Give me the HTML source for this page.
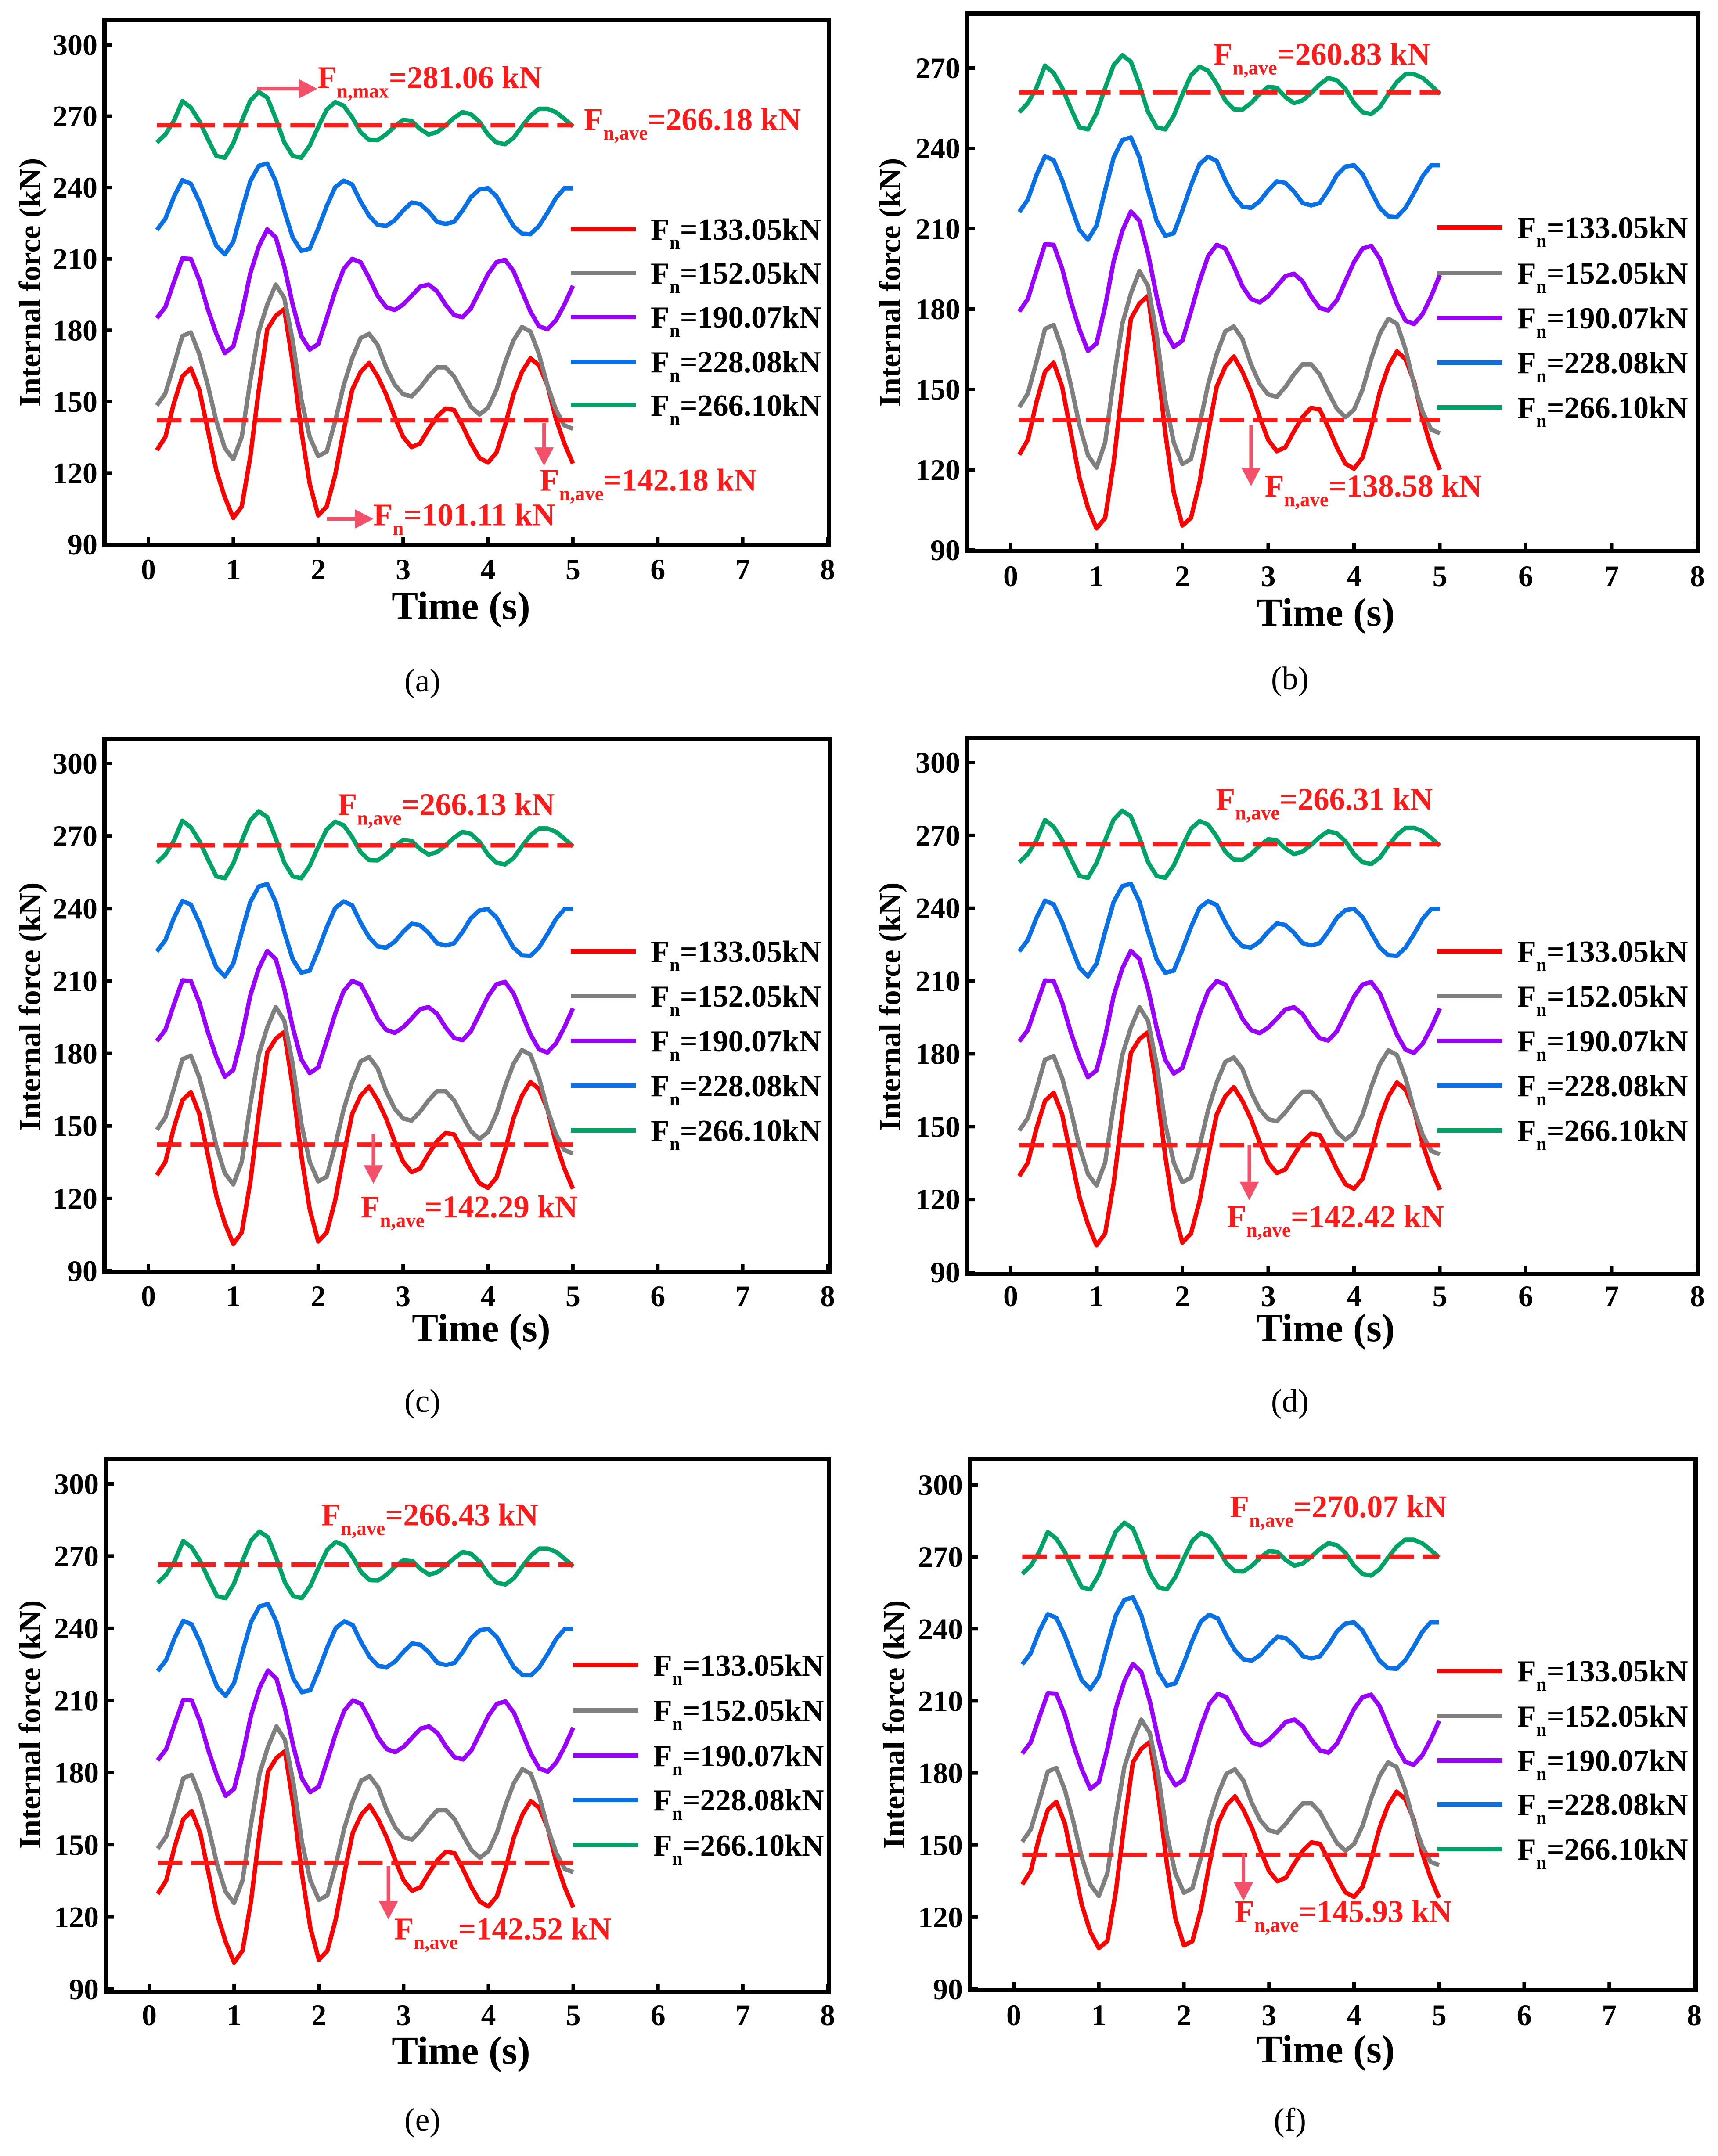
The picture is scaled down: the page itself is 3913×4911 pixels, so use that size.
<!DOCTYPE html>
<html><head><meta charset="utf-8">
<style>
html,body{margin:0;padding:0;background:#fff;}
svg{display:block;}
text{font-family:"Liberation Serif","DejaVu Serif",serif;}
</style></head>
<body>
<svg id="fig" xmlns="http://www.w3.org/2000/svg" width="3913" height="4911" viewBox="0 0 3913 4911">
<rect x="0" y="0" width="3913" height="4911" fill="#fff"/>
</svg>
<script>
const times = [0.1,0.2,0.3,0.4,0.5,0.6,0.7,0.8,0.9,1.0,1.1,1.2,1.3,1.4,1.5,1.6,1.7,1.8,1.9,2.0,2.1,2.2,2.3,2.4,2.5,2.6,2.7,2.8,2.9,3.0,3.1,3.2,3.3,3.4,3.5,3.6,3.7,3.8,3.9,4.0,4.1,4.2,4.3,4.4,4.5,4.6,4.7,4.8,4.9,5.0];
const seriesNames = ["133.05","152.05","190.07","228.08","266.10"];
const xTicks = [0,1,2,3,4,5,6,7,8];
const yTicksFull = [90,120,150,180,210,240,270,300];
const yTicksB = [90,120,150,180,210,240,270];

const greenA = [258.9,262.3,268,276.3,273.6,268,260.4,253.3,252.5,258.6,268,276.5,280.2,277.8,269,259,253.3,252.5,257.6,265.5,272.7,275.9,274.4,269.5,263.3,260,259.9,262.3,265.7,268.4,268,264.6,262.3,263.3,266.1,269.3,271.7,270.8,267.6,262.3,258.9,258.2,260.8,265.7,270.2,273.1,273.1,271.7,268.9,265.7];
const blueA = [222.2,226.9,236,243.1,241.6,234.1,224.7,215.6,211.9,217.2,230.3,242.6,249.1,250.1,242.6,230.3,219,213.4,214.3,222.8,232.2,240.1,242.9,241.3,234.1,228.1,224.3,223.8,226.2,230.3,233.7,233.1,229.9,225.6,224.7,225.6,230.3,236,239.2,239.7,236.3,229.9,223.8,220.6,220.4,223.8,229.4,235.6,239.7,239.7];
const purpleA = [185.1,189.8,200.2,210.2,210,201.1,188.9,178.5,170.4,173.2,187,203.9,215.2,222.4,219,206.8,190.8,177.6,171.9,174.2,185.1,196.4,205.8,210,208.6,202,194.5,189.8,188.5,190.8,194.5,198.3,199.2,196.4,190.8,186.4,185.5,189.3,196.4,203.6,208.6,209.6,204.9,196.4,187.9,181.7,180.4,184.2,190.8,198.7];
const grayA = [148.4,153.5,165.3,177.6,179.1,170,156.9,141.8,130.5,125.8,135.2,158.7,179.5,190.8,199.2,193.6,175.7,151.2,135.2,127.1,129,141.8,156.9,168.2,176.7,178.5,173.8,164.4,157.2,153.1,152.2,155.9,160.6,164.4,164.4,160.6,154,147.8,144.6,147.4,155,166.3,175.7,181.4,179.5,170,156.9,146.6,140,138.6];
const redA = [129.6,135.2,149.3,160.6,164,155,138,121.1,109.8,101.1,106,126.7,155,180.4,186.1,188.9,166.3,138,115.5,102.2,106,119.2,138,155,162.5,166.3,160.6,153.1,143.7,135.2,130.9,132.4,138.4,143.7,147.1,146.5,139.9,132.4,126.3,124.4,128.6,139.9,153.1,162.5,168.2,165.3,156.9,142.8,132.4,124];

const greenB = [253.5,256.9,262.6,270.9,268.2,262.6,255,247.9,247.1,253.2,262.6,271.1,274.8,272.4,263.6,253.6,247.9,247.1,252.2,260.1,267.3,270.5,269,264.1,257.9,254.6,254.5,256.9,260.3,263,262.6,259.2,256.9,257.9,260.7,263.9,266.3,265.4,262.2,256.9,253.5,252.8,255.4,260.3,264.8,267.7,267.7,266.3,263.5,260.3];
const blueB = [216.2,220.9,230,237.1,235.6,228.1,218.7,209.6,205.9,211.2,224.3,236.6,243.1,244.1,236.6,224.3,213,207.4,208.3,216.8,226.2,234.1,236.9,235.3,228.1,222.1,218.3,217.8,220.2,224.3,227.7,227.1,223.9,219.6,218.7,219.6,224.3,230,233.2,233.7,230.3,223.9,217.8,214.6,214.4,217.8,223.4,229.6,233.7,233.7];
const purpleB = [179.1,183.8,194.2,204.2,204,195.1,182.9,172.5,164.4,167.2,181,197.9,209.2,216.4,213,200.8,184.8,171.6,165.9,168.2,179.1,190.4,199.8,204,202.6,196,188.5,183.8,182.5,184.8,188.5,192.3,193.2,190.4,184.8,180.4,179.5,183.3,190.4,197.6,202.6,203.6,198.9,190.4,181.9,175.7,174.4,178.2,184.8,192.7];
const grayB = [143.4,148.5,160.3,172.6,174.1,165,151.9,136.8,125.5,120.8,130.2,153.7,174.5,185.8,194.2,188.6,170.7,146.2,130.2,122.1,124,136.8,151.9,163.2,171.7,173.5,168.8,159.4,152.2,148.1,147.2,150.9,155.6,159.4,159.4,155.6,149,142.8,139.6,142.4,150,161.3,170.7,176.4,174.5,165,151.9,141.6,135,133.6];
const redB = [125.6,131.2,145.3,156.6,160,151,134,117.1,105.8,98.1,102,122.7,151,176.4,182.1,184.9,162.3,134,111.5,99.2,102,115.2,134,151,158.5,162.3,156.6,149.1,139.7,131.2,126.9,128.4,134.4,139.7,143.1,142.5,135.9,128.4,122.3,120.4,124.6,135.9,149.1,158.5,164.2,161.3,152.9,138.8,128.4,120];

const greenF = [262.9,266.3,272,280.3,277.6,272,264.4,257.3,256.5,262.6,272,280.5,284.2,281.8,273,263,257.3,256.5,261.6,269.5,276.7,279.9,278.4,273.5,267.3,264,263.9,266.3,269.7,272.4,272,268.6,266.3,267.3,270.1,273.3,275.7,274.8,271.6,266.3,262.9,262.2,264.8,269.7,274.2,277.1,277.1,275.7,272.9,269.7];
const blueF = [225.2,229.9,239,246.1,244.6,237.1,227.7,218.6,214.9,220.2,233.3,245.6,252.1,253.1,245.6,233.3,222,216.4,217.3,225.8,235.2,243.1,245.9,244.3,237.1,231.1,227.3,226.8,229.2,233.3,236.7,236.1,232.9,228.6,227.7,228.6,233.3,239,242.2,242.7,239.3,232.9,226.8,223.6,223.4,226.8,232.4,238.6,242.7,242.7];
const purpleF = [188.1,192.8,203.2,213.2,213,204.1,191.9,181.5,173.4,176.2,190,206.9,218.2,225.4,222,209.8,193.8,180.6,174.9,177.2,188.1,199.4,208.8,213,211.6,205,197.5,192.8,191.5,193.8,197.5,201.3,202.2,199.4,193.8,189.4,188.5,192.3,199.4,206.6,211.6,212.6,207.9,199.4,190.9,184.7,183.4,187.2,193.8,201.7];
const grayF = [151.4,156.5,168.3,180.6,182.1,173,159.9,144.8,133.5,128.8,138.2,161.7,182.5,193.8,202.2,196.6,178.7,154.2,138.2,130.1,132,144.8,159.9,171.2,179.7,181.5,176.8,167.4,160.2,156.1,155.2,158.9,163.6,167.4,167.4,163.6,157,150.8,147.6,150.4,158,169.3,178.7,184.4,182.5,173,159.9,149.6,143,141.6];
const redF = [133.6,139.2,153.3,164.6,168,159,142,125.1,113.8,107.1,110,130.7,159,184.4,190.1,192.9,170.3,142,119.5,108.2,110,123.2,142,159,166.5,170.3,164.6,157.1,147.7,139.2,134.9,136.4,142.4,147.7,151.1,150.5,143.9,136.4,130.3,128.4,132.6,143.9,157.1,166.5,172.2,169.3,160.9,146.8,136.4,128];

const aveA = [266.18,142.18];
const aveB = [260.83,138.58];
const aveC = [266.13,142.29];
const aveD = [266.31,142.42];
const aveE = [266.43,142.52];
const aveF = [270.07,145.93];

const COLORS = ["#ff0000","#7f7f7f","#9900ff","#0a70e6","#00a366"];
const ANN = "#f4506a";
const NS = "http://www.w3.org/2000/svg";
const svg = document.getElementById('fig');

function mk(tag, parent){ const e=document.createElementNS(NS,tag); parent.appendChild(e); return e; }

const panels = [
 {id:'a',L:238,R:1888,T:46,B:1242,x0:338,x8:1885,vTop:300,pTop:102,p90:1240,yt:yTicksFull,
  s:[redA,grayA,purpleA,blueA,greenA],ave:aveA,legY:[522,622,722,824,923],legX:1300,
  ytitle:[69,643],xlabY:1316,timeY:1410,timeX:1050,cap:[962,1575],
  arrows:[[1.28,281.5,1.99,281.5],[4.66,141,4.66,123],[2.1,100.7,2.65,100.7]],
  labels:[[1.99,281.8,'n,max','=281.06 kN'],[5.13,264.2,'n,ave','='+aveA[0].toFixed(2)+' kN'],[4.61,112.6,'n,ave','='+aveA[1].toFixed(2)+' kN'],[2.65,98,'n','=101.11 kN']]},
 {id:'b',L:2203,R:3868,T:31,B:1255,x0:2302,x8:3866,vTop:270,pTop:155,p90:1253,yt:yTicksB,
  s:[redB,grayB,purpleB,blueB,greenB],ave:aveB,legY:[518,622,724,826,928],legX:3274,
  ytitle:[2028,643],xlabY:1331,timeY:1425,timeX:3019,cap:[2938,1570],
  arrows:[[2.8,136.8,2.8,113.9]],
  labels:[[2.36,271.2,'n,ave','='+aveB[0].toFixed(2)+' kN'],[2.96,110,'n,ave','='+aveB[1].toFixed(2)+' kN']]},
 {id:'c',L:238,R:1890,T:1683,B:2898,x0:338,x8:1885,vTop:300,pTop:1739,p90:2895,yt:yTicksFull,
  s:[redA,grayA,purpleA,blueA,greenA],ave:aveC,legY:[2167,2269,2371,2473,2575],legX:1300,
  ytitle:[69,2293],xlabY:2971,timeY:3055,timeX:1096,cap:[962,3216],
  arrows:[[2.65,146.6,2.65,126.1]],
  labels:[[2.23,278.7,'n,ave','='+aveC[0].toFixed(2)+' kN'],[2.5,112.2,'n,ave','='+aveC[1].toFixed(2)+' kN']]},
 {id:'d',L:2203,R:3868,T:1681,B:2902,x0:2302,x8:3866,vTop:300,pTop:1737,p90:2898,yt:yTicksFull,
  s:[redA,grayA,purpleA,blueA,greenA],ave:aveD,legY:[2167,2269,2371,2473,2575],legX:3274,
  ytitle:[2028,2293],xlabY:2971,timeY:3055,timeX:3019,cap:[2938,3216],
  arrows:[[2.78,142.4,2.78,119.7]],
  labels:[[2.39,280.6,'n,ave','='+aveD[0].toFixed(2)+' kN'],[2.52,108.6,'n,ave','='+aveD[1].toFixed(2)+' kN']]},
 {id:'e',L:241,R:1888,T:3324,B:4537,x0:340,x8:1885,vTop:300,pTop:3380,p90:4531,yt:yTicksFull,
  s:[redA,grayA,purpleA,blueA,greenA],ave:aveE,legY:[3793,3896,3999,4100,4203],legX:1306,
  ytitle:[69,3928],xlabY:4609,timeY:4701,timeX:1050,cap:[962,4853],
  arrows:[[2.82,141.2,2.82,119]],
  labels:[[2.03,282.8,'n,ave','='+aveE[0].toFixed(2)+' kN'],[2.89,110.7,'n,ave','='+aveE[1].toFixed(2)+' kN']]},
 {id:'f',L:2209,R:3862,T:3324,B:4533,x0:2309,x8:3859,vTop:300,pTop:3382,p90:4531,yt:yTicksFull,
  s:[redF,grayF,purpleF,blueF,greenF],ave:aveF,legY:[3806,3909,4010,4110,4212],legX:3274,
  ytitle:[2037,3928],xlabY:4609,timeY:4698,timeX:3019,cap:[2938,4853],
  arrows:[[2.7,146.5,2.7,126.8]],
  labels:[[2.54,286.5,'n,ave','='+aveF[0].toFixed(2)+' kN'],[2.6,118,'n,ave','='+aveF[1].toFixed(2)+' kN']]}
];

function subText(parent, x, y, size, fill, sub, rest){
  const t = mk('text', parent);
  t.setAttribute('x', x); t.setAttribute('y', y);
  t.setAttribute('font-size', size); t.setAttribute('font-weight','bold'); t.setAttribute('fill', fill);
  const a = mk('tspan', t); a.textContent='F';
  const b = mk('tspan', t); b.textContent=sub; b.setAttribute('font-size', Math.round(size*0.62)); b.setAttribute('dy', Math.round(size*0.3));
  const c = mk('tspan', t); c.textContent=rest; c.setAttribute('dy', -Math.round(size*0.3));
  return t;
}

panels.forEach(p=>{
  const g = mk('g', svg);
  
  
  const xs = t => p.x0 + t*(p.x8-p.x0)/8;
  const ys = v => p.p90 + (v-90)*(p.pTop-p.p90)/(p.vTop-90);

  p.yt.forEach(v=>{
    const l = mk('line', g);
    
    
    l.setAttribute('x1',p.L); l.setAttribute('x2',p.L+18); l.setAttribute('y1',ys(v)); l.setAttribute('y2',ys(v));
    l.setAttribute('stroke','#000'); l.setAttribute('stroke-width',8);
    const t = mk('text', g);
    
    
    t.setAttribute('x', p.L-16); t.setAttribute('y', ys(v)+23); t.setAttribute('text-anchor','end');
    t.setAttribute('font-size',68); t.setAttribute('font-weight','bold'); t.textContent=v;
  });
  xTicks.forEach(v=>{
    const l = mk('line', g);
    
    
    l.setAttribute('x1',xs(v)); l.setAttribute('x2',xs(v)); l.setAttribute('y1',p.B); l.setAttribute('y2',p.B-18);
    l.setAttribute('stroke','#000'); l.setAttribute('stroke-width',8);
    const t = mk('text', g);
    
    
    t.setAttribute('x', xs(v)); t.setAttribute('y', p.xlabY+4); t.setAttribute('text-anchor','middle');
    t.setAttribute('font-size',68); t.setAttribute('font-weight','bold'); t.textContent=v;
  });

  p.s.forEach((arr,i)=>{
    const pl = mk('polyline', g);
    
    
    pl.setAttribute('points', arr.map((v,k)=>xs(times[k]).toFixed(1)+','+ys(v).toFixed(1)).join(' '));
    pl.setAttribute('fill','none'); pl.setAttribute('stroke',COLORS[i]); pl.setAttribute('stroke-width',10);
    pl.setAttribute('stroke-linejoin','round');
  });

  p.ave.forEach(v=>{
    const l = mk('line', g);
    
    
    l.setAttribute('x1',xs(times[0])); l.setAttribute('x2',xs(times[times.length-1]));
    l.setAttribute('y1',ys(v)); l.setAttribute('y2',ys(v));
    l.setAttribute('stroke','#ff1a1a'); l.setAttribute('stroke-width',10); l.setAttribute('stroke-dasharray','56 20');
  });

  p.arrows.forEach(a=>{
    const x1=xs(a[0]), y1=ys(a[1]), x2=xs(a[2]), y2=ys(a[3]);
    const ag = mk('g', g);
    
    
    const dx=x2-x1, dy=y2-y1, len=Math.hypot(dx,dy), ux=dx/len, uy=dy/len;
    const hl=42, hw=22;
    const l = mk('line', ag);
    l.setAttribute('x1',x1); l.setAttribute('y1',y1); l.setAttribute('x2',x2-ux*hl); l.setAttribute('y2',y2-uy*hl);
    l.setAttribute('stroke',ANN); l.setAttribute('stroke-width',8);
    const bx=x2-ux*hl, by=y2-uy*hl;
    const h = mk('polygon', ag);
    h.setAttribute('points', x2+','+y2+' '+(bx-uy*hw)+','+(by+ux*hw)+' '+(bx+uy*hw)+','+(by-ux*hw));
    h.setAttribute('fill',ANN);
  });

  p.labels.forEach(lb=>{
    const t = subText(g, xs(lb[0]), ys(lb[1]), 72, '#ff1a1a', lb[2], lb[3]);
    
    
  });

  seriesNames.forEach((nm,i)=>{
    const lg = mk('g', g);
    
    
    const l = mk('line', lg);
    l.setAttribute('x1',p.legX); l.setAttribute('x2',p.legX+148); l.setAttribute('y1',p.legY[i]); l.setAttribute('y2',p.legY[i]);
    l.setAttribute('stroke',COLORS[i]); l.setAttribute('stroke-width',10);
    subText(lg, p.legX+182, p.legY[i]+24, 70, '#000', 'n', '='+nm+'kN');
  });

  const fr = mk('rect', g);
  
  
  fr.setAttribute('x',p.L); fr.setAttribute('y',p.T); fr.setAttribute('width',p.R-p.L); fr.setAttribute('height',p.B-p.T);
  fr.setAttribute('fill','none'); fr.setAttribute('stroke','#000'); fr.setAttribute('stroke-width',10);

  const yt = mk('text', g);
  
  
  yt.setAttribute('x',p.ytitle[0]); yt.setAttribute('y',p.ytitle[1]);
  yt.setAttribute('transform','rotate(-90 '+p.ytitle[0]+' '+p.ytitle[1]+')');
  yt.setAttribute('text-anchor','middle'); yt.setAttribute('dominant-baseline','central');
  yt.setAttribute('font-size',70); yt.setAttribute('font-weight','bold');
  yt.textContent='Internal force (kN)';

  const xt = mk('text', g);
  
  
  xt.setAttribute('x',p.timeX); xt.setAttribute('y',p.timeY); xt.setAttribute('text-anchor','middle');
  xt.setAttribute('font-size',90); xt.setAttribute('font-weight','bold');
  xt.textContent='Time (s)';

  const cp = mk('text', g);
  
  
  cp.setAttribute('x',p.cap[0]); cp.setAttribute('y',p.cap[1]); cp.setAttribute('text-anchor','middle');
  cp.setAttribute('font-size',74);
  cp.textContent='('+p.id+')';
});
</script>
</body></html>
